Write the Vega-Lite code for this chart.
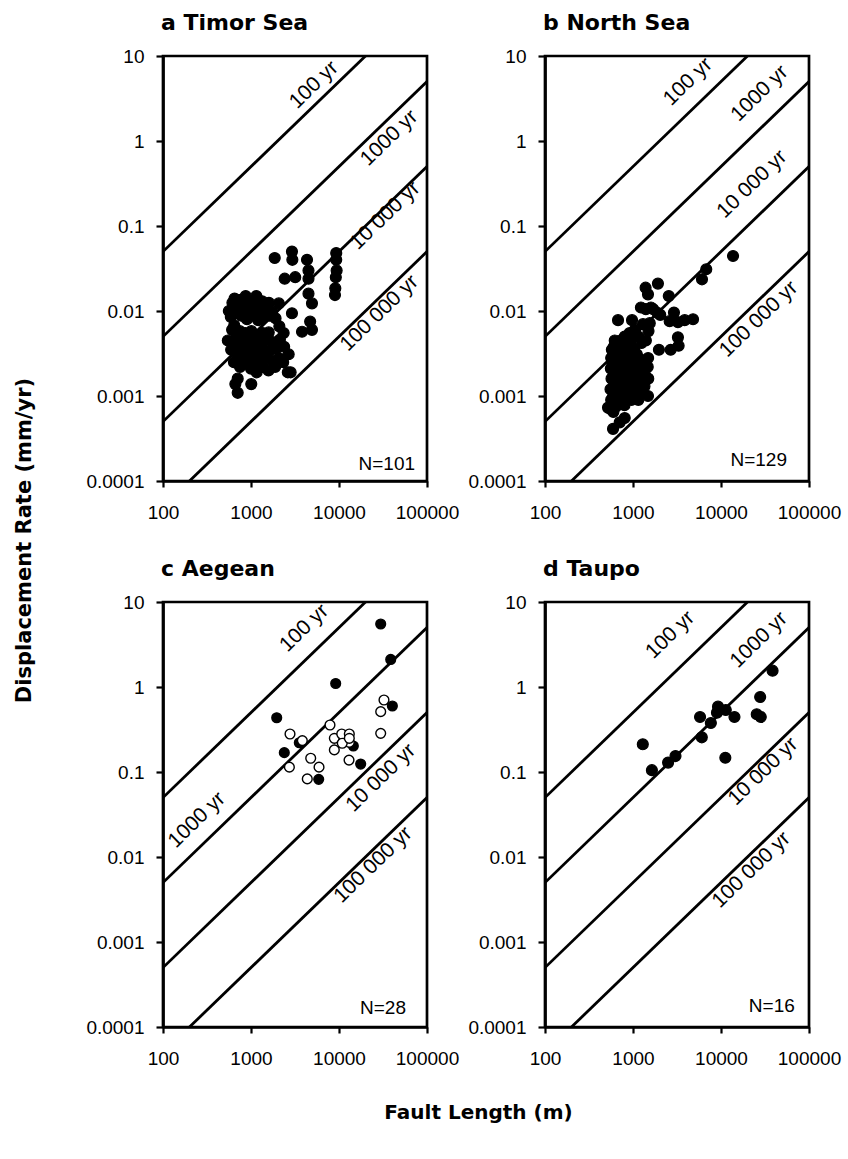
{
  "$schema": "https://vega.github.io/schema/vega-lite/v6.json",
  "background": "white",
  "autosize": {"type": "pad"},
  "padding": {"left": 11, "top": 10, "right": 10, "bottom": 10},
  "config": {
    "view": {"stroke": "black", "strokeWidth": 2.7},
    "axis": {"domainColor": "black", "domainWidth": 2.7, "tickColor": "black", "tickWidth": 2.2, "labelFont": "Liberation Sans", "labelFontSize": 19, "labelColor": "black", "grid": false, "labelFlush": false, "labelOverlap": false, "titleColor": "black"},
    "axisX": {"tickSize": 6, "labelPadding": 16},
    "axisY": {"tickSize": 7, "labelPadding": 12},
    "title": {"anchor": "start", "frame": "group", "font": "DejaVu Sans", "fontSize": 22, "fontWeight": "bold", "color": "black", "offset": 12, "dx": -2}
  },
  "datasets": {
    "lines": [
      {"period": "100", "x": 100, "y": 0.05}, {"period": "100", "x": 100000, "y": 50},
      {"period": "1000", "x": 100, "y": 0.005}, {"period": "1000", "x": 100000, "y": 5},
      {"period": "10000", "x": 100, "y": 0.0005}, {"period": "10000", "x": 100000, "y": 0.5},
      {"period": "100000", "x": 100, "y": 0.00005}, {"period": "100000", "x": 100000, "y": 0.05}
    ],
    "labels": [
      {"p": "a", "label": "100 yr", "x": 5200, "y": 4.56},
      {"p": "a", "label": "1000 yr", "x": 37300, "y": 1.08},
      {"p": "a", "label": "10 000 yr", "x": 33600, "y": 0.132},
      {"p": "a", "label": "100 000 yr", "x": 28800, "y": 0.0094},
      {"p": "b", "label": "100 yr", "x": 4220, "y": 4.97},
      {"p": "b", "label": "1000 yr", "x": 27500, "y": 3.62},
      {"p": "b", "label": "10 000 yr", "x": 22600, "y": 0.309},
      {"p": "b", "label": "100 000 yr", "x": 26900, "y": 0.00798},
      {"p": "c", "label": "100 yr", "x": 4030, "y": 4.91},
      {"p": "c", "label": "1000 yr", "x": 243, "y": 0.0272},
      {"p": "c", "label": "10 000 yr", "x": 30000, "y": 0.085},
      {"p": "c", "label": "100 000 yr", "x": 24500, "y": 0.00805},
      {"p": "d", "label": "100 yr", "x": 2660, "y": 4.09},
      {"p": "d", "label": "1000 yr", "x": 27000, "y": 3.57},
      {"p": "d", "label": "10 000 yr", "x": 30200, "y": 0.101},
      {"p": "d", "label": "100 000 yr", "x": 22200, "y": 0.00703}
    ],
    "ns": [
      {"p": "a", "label": "N=101", "x": 73100, "y": 0.000135},
      {"p": "b", "label": "N=129", "x": 56200, "y": 0.000151},
      {"p": "c", "label": "N=28", "x": 57700, "y": 0.000142},
      {"p": "d", "label": "N=16", "x": 69000, "y": 0.00015}
    ],
    "pts": [
      {"p": "a", "x": 706, "y": 0.0016, "k": "s"}, {"p": "a", "x": 664, "y": 0.00138, "k": "s"}, {"p": "a", "x": 706, "y": 0.00109, "k": "s"}, {"p": "a", "x": 1007, "y": 0.00138, "k": "s"},
      {"p": "a", "x": 545, "y": 0.0045, "k": "s"}, {"p": "a", "x": 560, "y": 0.010, "k": "s"},
      {"p": "a", "x": 595, "y": 0.0035, "k": "s"}, {"p": "a", "x": 610, "y": 0.006, "k": "s"}, {"p": "a", "x": 590, "y": 0.0085, "k": "s"}, {"p": "a", "x": 615, "y": 0.0125, "k": "s"},
      {"p": "a", "x": 640, "y": 0.0025, "k": "s"}, {"p": "a", "x": 660, "y": 0.0042, "k": "s"}, {"p": "a", "x": 645, "y": 0.0068, "k": "s"}, {"p": "a", "x": 665, "y": 0.0095, "k": "s"}, {"p": "a", "x": 650, "y": 0.014, "k": "s"},
      {"p": "a", "x": 700, "y": 0.003, "k": "s"}, {"p": "a", "x": 690, "y": 0.005, "k": "s"}, {"p": "a", "x": 715, "y": 0.011, "k": "s"},
      {"p": "a", "x": 750, "y": 0.0022, "k": "s"}, {"p": "a", "x": 770, "y": 0.0036, "k": "s"}, {"p": "a", "x": 745, "y": 0.0058, "k": "s"}, {"p": "a", "x": 775, "y": 0.0088, "k": "s"}, {"p": "a", "x": 760, "y": 0.0135, "k": "s"},
      {"p": "a", "x": 810, "y": 0.0028, "k": "s"}, {"p": "a", "x": 830, "y": 0.0046, "k": "s"}, {"p": "a", "x": 815, "y": 0.010, "k": "s"},
      {"p": "a", "x": 870, "y": 0.0024, "k": "s"}, {"p": "a", "x": 890, "y": 0.0038, "k": "s"}, {"p": "a", "x": 860, "y": 0.0055, "k": "s"}, {"p": "a", "x": 900, "y": 0.0080, "k": "s"}, {"p": "a", "x": 880, "y": 0.012, "k": "s"}, {"p": "a", "x": 870, "y": 0.015, "k": "s"},
      {"p": "a", "x": 940, "y": 0.003, "k": "s"}, {"p": "a", "x": 960, "y": 0.0048, "k": "s"}, {"p": "a", "x": 950, "y": 0.0105, "k": "s"},
      {"p": "a", "x": 1000, "y": 0.0021, "k": "s"}, {"p": "a", "x": 1040, "y": 0.0034, "k": "s"}, {"p": "a", "x": 1010, "y": 0.0058, "k": "s"}, {"p": "a", "x": 1050, "y": 0.0088, "k": "s"}, {"p": "a", "x": 1020, "y": 0.013, "k": "s"},
      {"p": "a", "x": 1090, "y": 0.0027, "k": "s"}, {"p": "a", "x": 1120, "y": 0.0042, "k": "s"}, {"p": "a", "x": 1100, "y": 0.0098, "k": "s"},
      {"p": "a", "x": 1160, "y": 0.0019, "k": "s"}, {"p": "a", "x": 1200, "y": 0.0032, "k": "s"}, {"p": "a", "x": 1170, "y": 0.0052, "k": "s"}, {"p": "a", "x": 1210, "y": 0.0078, "k": "s"}, {"p": "a", "x": 1180, "y": 0.0115, "k": "s"}, {"p": "a", "x": 1150, "y": 0.015, "k": "s"},
      {"p": "a", "x": 1250, "y": 0.0025, "k": "s"}, {"p": "a", "x": 1290, "y": 0.004, "k": "s"}, {"p": "a", "x": 1260, "y": 0.0092, "k": "s"},
      {"p": "a", "x": 1350, "y": 0.0022, "k": "s"}, {"p": "a", "x": 1390, "y": 0.0035, "k": "s"}, {"p": "a", "x": 1360, "y": 0.0055, "k": "s"}, {"p": "a", "x": 1400, "y": 0.0085, "k": "s"}, {"p": "a", "x": 1340, "y": 0.013, "k": "s"},
      {"p": "a", "x": 1460, "y": 0.0028, "k": "s"}, {"p": "a", "x": 1500, "y": 0.0046, "k": "s"}, {"p": "a", "x": 1470, "y": 0.0105, "k": "s"},
      {"p": "a", "x": 1580, "y": 0.002, "k": "s"}, {"p": "a", "x": 1620, "y": 0.0034, "k": "s"}, {"p": "a", "x": 1590, "y": 0.0056, "k": "s"}, {"p": "a", "x": 1630, "y": 0.0088, "k": "s"}, {"p": "a", "x": 1600, "y": 0.0125, "k": "s"},
      {"p": "a", "x": 1730, "y": 0.0026, "k": "s"}, {"p": "a", "x": 1770, "y": 0.0043, "k": "s"}, {"p": "a", "x": 1740, "y": 0.0098, "k": "s"},
      {"p": "a", "x": 1880, "y": 0.0022, "k": "s"}, {"p": "a", "x": 1930, "y": 0.0036, "k": "s"}, {"p": "a", "x": 1900, "y": 0.0082, "k": "s"},
      {"p": "a", "x": 2080, "y": 0.0028, "k": "s"}, {"p": "a", "x": 2130, "y": 0.0046, "k": "s"}, {"p": "a", "x": 2100, "y": 0.0066, "k": "s"},
      {"p": "a", "x": 2320, "y": 0.0025, "k": "s"}, {"p": "a", "x": 2380, "y": 0.0038, "k": "s"}, {"p": "a", "x": 2350, "y": 0.0055, "k": "s"},
      {"p": "a", "x": 2620, "y": 0.0019, "k": "s"}, {"p": "a", "x": 2680, "y": 0.0031, "k": "s"},
      {"p": "a", "x": 2820, "y": 0.0019, "k": "s"},
      {"p": "a", "x": 1860, "y": 0.042, "k": "s"}, {"p": "a", "x": 2920, "y": 0.05, "k": "s"}, {"p": "a", "x": 2950, "y": 0.04, "k": "s"}, {"p": "a", "x": 4330, "y": 0.04, "k": "s"},
      {"p": "a", "x": 9300, "y": 0.048, "k": "s"}, {"p": "a", "x": 9300, "y": 0.04, "k": "s"}, {"p": "a", "x": 9400, "y": 0.030, "k": "s"}, {"p": "a", "x": 9200, "y": 0.025, "k": "s"},
      {"p": "a", "x": 9080, "y": 0.0185, "k": "s"}, {"p": "a", "x": 2415, "y": 0.024, "k": "s"}, {"p": "a", "x": 3180, "y": 0.025, "k": "s"}, {"p": "a", "x": 9000, "y": 0.0154, "k": "s"},
      {"p": "a", "x": 4500, "y": 0.03, "k": "s"}, {"p": "a", "x": 4500, "y": 0.024, "k": "s"}, {"p": "a", "x": 4500, "y": 0.016, "k": "s"}, {"p": "a", "x": 4930, "y": 0.0123, "k": "s"},
      {"p": "a", "x": 4700, "y": 0.0075, "k": "s"}, {"p": "a", "x": 4930, "y": 0.006, "k": "s"}, {"p": "a", "x": 3800, "y": 0.0057, "k": "s"}, {"p": "a", "x": 2070, "y": 0.0123, "k": "s"},
      {"p": "a", "x": 2920, "y": 0.0094, "k": "s"},

      {"p": "b", "x": 560, "y": 0.0007, "k": "s"}, {"p": "b", "x": 565, "y": 0.0009, "k": "s"}, {"p": "b", "x": 555, "y": 0.0012, "k": "s"}, {"p": "b", "x": 570, "y": 0.0016, "k": "s"}, {"p": "b", "x": 560, "y": 0.0021, "k": "s"}, {"p": "b", "x": 565, "y": 0.0028, "k": "s"}, {"p": "b", "x": 575, "y": 0.0035, "k": "s"},
      {"p": "b", "x": 600, "y": 0.0008, "k": "s"}, {"p": "b", "x": 595, "y": 0.001, "k": "s"}, {"p": "b", "x": 605, "y": 0.0013, "k": "s"}, {"p": "b", "x": 600, "y": 0.0017, "k": "s"}, {"p": "b", "x": 610, "y": 0.0022, "k": "s"}, {"p": "b", "x": 595, "y": 0.003, "k": "s"}, {"p": "b", "x": 605, "y": 0.0038, "k": "s"}, {"p": "b", "x": 598, "y": 0.00065, "k": "s"},
      {"p": "b", "x": 640, "y": 0.00075, "k": "s"}, {"p": "b", "x": 645, "y": 0.00095, "k": "s"}, {"p": "b", "x": 635, "y": 0.0012, "k": "s"}, {"p": "b", "x": 650, "y": 0.0015, "k": "s"}, {"p": "b", "x": 640, "y": 0.0019, "k": "s"}, {"p": "b", "x": 645, "y": 0.0025, "k": "s"}, {"p": "b", "x": 635, "y": 0.0032, "k": "s"}, {"p": "b", "x": 650, "y": 0.0042, "k": "s"},
      {"p": "b", "x": 680, "y": 0.0008, "k": "s"}, {"p": "b", "x": 685, "y": 0.0011, "k": "s"}, {"p": "b", "x": 675, "y": 0.0014, "k": "s"}, {"p": "b", "x": 690, "y": 0.0018, "k": "s"}, {"p": "b", "x": 680, "y": 0.0023, "k": "s"}, {"p": "b", "x": 685, "y": 0.0029, "k": "s"},
      {"p": "b", "x": 720, "y": 0.00085, "k": "s"}, {"p": "b", "x": 715, "y": 0.00105, "k": "s"}, {"p": "b", "x": 725, "y": 0.0013, "k": "s"}, {"p": "b", "x": 720, "y": 0.0016, "k": "s"}, {"p": "b", "x": 730, "y": 0.0021, "k": "s"}, {"p": "b", "x": 715, "y": 0.0027, "k": "s"}, {"p": "b", "x": 725, "y": 0.0036, "k": "s"}, {"p": "b", "x": 720, "y": 0.0045, "k": "s"},
      {"p": "b", "x": 760, "y": 0.0009, "k": "s"}, {"p": "b", "x": 765, "y": 0.0012, "k": "s"}, {"p": "b", "x": 755, "y": 0.0015, "k": "s"}, {"p": "b", "x": 770, "y": 0.002, "k": "s"}, {"p": "b", "x": 760, "y": 0.0026, "k": "s"},
      {"p": "b", "x": 800, "y": 0.00078, "k": "s"}, {"p": "b", "x": 810, "y": 0.001, "k": "s"}, {"p": "b", "x": 795, "y": 0.0013, "k": "s"}, {"p": "b", "x": 805, "y": 0.0017, "k": "s"}, {"p": "b", "x": 800, "y": 0.0022, "k": "s"}, {"p": "b", "x": 815, "y": 0.003, "k": "s"}, {"p": "b", "x": 800, "y": 0.0041, "k": "s"}, {"p": "b", "x": 805, "y": 0.005, "k": "s"},
      {"p": "b", "x": 850, "y": 0.00095, "k": "s"}, {"p": "b", "x": 860, "y": 0.0012, "k": "s"}, {"p": "b", "x": 845, "y": 0.0016, "k": "s"}, {"p": "b", "x": 855, "y": 0.0021, "k": "s"}, {"p": "b", "x": 850, "y": 0.0028, "k": "s"},
      {"p": "b", "x": 900, "y": 0.0011, "k": "s"}, {"p": "b", "x": 910, "y": 0.0014, "k": "s"}, {"p": "b", "x": 895, "y": 0.0018, "k": "s"}, {"p": "b", "x": 905, "y": 0.0024, "k": "s"}, {"p": "b", "x": 900, "y": 0.0033, "k": "s"}, {"p": "b", "x": 915, "y": 0.0055, "k": "s"},
      {"p": "b", "x": 960, "y": 0.0009, "k": "s"}, {"p": "b", "x": 970, "y": 0.0012, "k": "s"}, {"p": "b", "x": 955, "y": 0.0016, "k": "s"}, {"p": "b", "x": 965, "y": 0.0022, "k": "s"}, {"p": "b", "x": 960, "y": 0.0029, "k": "s"},
      {"p": "b", "x": 1030, "y": 0.001, "k": "s"}, {"p": "b", "x": 1040, "y": 0.0014, "k": "s"}, {"p": "b", "x": 1020, "y": 0.0019, "k": "s"}, {"p": "b", "x": 1035, "y": 0.0026, "k": "s"}, {"p": "b", "x": 1030, "y": 0.0036, "k": "s"},
      {"p": "b", "x": 1100, "y": 0.0012, "k": "s"}, {"p": "b", "x": 1110, "y": 0.0016, "k": "s"}, {"p": "b", "x": 1090, "y": 0.0021, "k": "s"}, {"p": "b", "x": 1105, "y": 0.0031, "k": "s"},
      {"p": "b", "x": 1200, "y": 0.0011, "k": "s"}, {"p": "b", "x": 1210, "y": 0.0015, "k": "s"}, {"p": "b", "x": 1190, "y": 0.002, "k": "s"}, {"p": "b", "x": 1205, "y": 0.0027, "k": "s"},
      {"p": "b", "x": 1350, "y": 0.0013, "k": "s"}, {"p": "b", "x": 1360, "y": 0.0018, "k": "s"}, {"p": "b", "x": 1340, "y": 0.0024, "k": "s"},
      {"p": "b", "x": 1480, "y": 0.001, "k": "s"}, {"p": "b", "x": 1490, "y": 0.0016, "k": "s"}, {"p": "b", "x": 1470, "y": 0.0022, "k": "s"}, {"p": "b", "x": 1485, "y": 0.0028, "k": "s"},
      {"p": "b", "x": 580, "y": 0.0025, "k": "s"}, {"p": "b", "x": 620, "y": 0.0045, "k": "s"}, {"p": "b", "x": 700, "y": 0.0035, "k": "s"}, {"p": "b", "x": 750, "y": 0.0042, "k": "s"},
      {"p": "b", "x": 870, "y": 0.0037, "k": "s"}, {"p": "b", "x": 930, "y": 0.0044, "k": "s"}, {"p": "b", "x": 1000, "y": 0.0031, "k": "s"}, {"p": "b", "x": 1150, "y": 0.0009, "k": "s"},
      {"p": "b", "x": 593, "y": 0.00041, "k": "s"}, {"p": "b", "x": 706, "y": 0.00049, "k": "s"}, {"p": "b", "x": 805, "y": 0.00055, "k": "s"}, {"p": "b", "x": 520, "y": 0.00073, "k": "s"},
      {"p": "b", "x": 676, "y": 0.0078, "k": "s"}, {"p": "b", "x": 975, "y": 0.0078, "k": "s"}, {"p": "b", "x": 1390, "y": 0.0188, "k": "s"}, {"p": "b", "x": 1920, "y": 0.021, "k": "s"},
      {"p": "b", "x": 1480, "y": 0.0157, "k": "s"}, {"p": "b", "x": 2550, "y": 0.015, "k": "s"}, {"p": "b", "x": 1230, "y": 0.011, "k": "s"}, {"p": "b", "x": 1400, "y": 0.0105, "k": "s"},
      {"p": "b", "x": 1600, "y": 0.011, "k": "s"}, {"p": "b", "x": 1900, "y": 0.0095, "k": "s"}, {"p": "b", "x": 2040, "y": 0.009, "k": "s"}, {"p": "b", "x": 2920, "y": 0.0096, "k": "s"},
      {"p": "b", "x": 2610, "y": 0.0076, "k": "s"}, {"p": "b", "x": 3240, "y": 0.0074, "k": "s"}, {"p": "b", "x": 3870, "y": 0.0078, "k": "s"}, {"p": "b", "x": 4810, "y": 0.008, "k": "s"},
      {"p": "b", "x": 3240, "y": 0.0049, "k": "s"}, {"p": "b", "x": 3300, "y": 0.0039, "k": "s"}, {"p": "b", "x": 2680, "y": 0.0035, "k": "s"}, {"p": "b", "x": 1970, "y": 0.0035, "k": "s"},
      {"p": "b", "x": 1300, "y": 0.007, "k": "s"}, {"p": "b", "x": 1500, "y": 0.0058, "k": "s"}, {"p": "b", "x": 1400, "y": 0.0045, "k": "s"}, {"p": "b", "x": 1150, "y": 0.005, "k": "s"},
      {"p": "b", "x": 1050, "y": 0.006, "k": "s"}, {"p": "b", "x": 6800, "y": 0.031, "k": "s"}, {"p": "b", "x": 6080, "y": 0.0236, "k": "s"}, {"p": "b", "x": 13700, "y": 0.0444, "k": "s"},
      {"p": "b", "x": 1700, "y": 0.0105, "k": "s"}, {"p": "b", "x": 1550, "y": 0.0072, "k": "s"}, {"p": "b", "x": 1250, "y": 0.0042, "k": "s"},

      {"p": "c", "x": 1960, "y": 0.435, "k": "s"}, {"p": "c", "x": 2390, "y": 0.169, "k": "s"}, {"p": "c", "x": 3540, "y": 0.221, "k": "s"}, {"p": "c", "x": 5880, "y": 0.082, "k": "s"},
      {"p": "c", "x": 9170, "y": 1.10, "k": "s"}, {"p": "c", "x": 14550, "y": 0.202, "k": "s"}, {"p": "c", "x": 17630, "y": 0.124, "k": "s"}, {"p": "c", "x": 29780, "y": 5.51, "k": "s"},
      {"p": "c", "x": 38700, "y": 2.11, "k": "s"}, {"p": "c", "x": 40400, "y": 0.597, "k": "s"},
      {"p": "c", "x": 2775, "y": 0.280, "k": "o"}, {"p": "c", "x": 2730, "y": 0.114, "k": "o"}, {"p": "c", "x": 3830, "y": 0.234, "k": "o"}, {"p": "c", "x": 4770, "y": 0.145, "k": "o"},
      {"p": "c", "x": 4360, "y": 0.083, "k": "o"}, {"p": "c", "x": 5930, "y": 0.114, "k": "o"}, {"p": "c", "x": 7900, "y": 0.357, "k": "o"}, {"p": "c", "x": 8850, "y": 0.249, "k": "o"},
      {"p": "c", "x": 8850, "y": 0.182, "k": "o"}, {"p": "c", "x": 10740, "y": 0.280, "k": "o"}, {"p": "c", "x": 13100, "y": 0.280, "k": "o"}, {"p": "c", "x": 13100, "y": 0.223, "k": "o"},
      {"p": "c", "x": 13000, "y": 0.138, "k": "o"}, {"p": "c", "x": 29780, "y": 0.513, "k": "o"}, {"p": "c", "x": 32450, "y": 0.703, "k": "o"}, {"p": "c", "x": 29780, "y": 0.285, "k": "o"},
      {"p": "c", "x": 10890, "y": 0.218, "k": "o"}, {"p": "c", "x": 13100, "y": 0.249, "k": "o"},

      {"p": "d", "x": 1292, "y": 0.212, "k": "s"}, {"p": "d", "x": 1640, "y": 0.105, "k": "s"}, {"p": "d", "x": 2505, "y": 0.129, "k": "s"}, {"p": "d", "x": 3040, "y": 0.154, "k": "s"},
      {"p": "d", "x": 5780, "y": 0.444, "k": "s"}, {"p": "d", "x": 6050, "y": 0.256, "k": "s"}, {"p": "d", "x": 7670, "y": 0.377, "k": "s"}, {"p": "d", "x": 9250, "y": 0.587, "k": "s"},
      {"p": "d", "x": 9000, "y": 0.499, "k": "s"}, {"p": "d", "x": 11330, "y": 0.536, "k": "s"}, {"p": "d", "x": 14220, "y": 0.444, "k": "s"}, {"p": "d", "x": 11200, "y": 0.147, "k": "s"},
      {"p": "d", "x": 25470, "y": 0.478, "k": "s"}, {"p": "d", "x": 28300, "y": 0.444, "k": "s"}, {"p": "d", "x": 27860, "y": 0.762, "k": "s"}, {"p": "d", "x": 38550, "y": 1.556, "k": "s"}
    ]
  },
  "columns": 2,
  "bounds": "flush",
  "spacing": {"row": 121, "column": 118},
  "concat": [
    {
      "width": 264, "height": 425,
      "title": "a Timor Sea",
      "encoding": {
        "x": {"field": "x", "type": "quantitative", "scale": {"type": "log", "domain": [100, 100000]}, "axis": {"values": [100, 1000, 10000, 100000], "format": "~g", "title": null}},
        "y": {"field": "y", "type": "quantitative", "scale": {"type": "log", "domain": [0.0001, 10]}, "axis": {"values": [0.0001, 0.001, 0.01, 0.1, 1, 10], "format": "~g", "title": "Displacement Rate (mm/yr)", "titleX": -139, "titleY": 484, "titleAlign": "center", "titleBaseline": "middle", "titleFont": "DejaVu Sans", "titleFontSize": 21, "titleFontWeight": "bold"}}
      },
      "layer": [
        {"data": {"name": "lines"}, "mark": {"type": "line", "color": "black", "strokeWidth": 2.8, "clip": true}, "encoding": {"detail": {"field": "period"}}},
        {"data": {"name": "labels"}, "transform": [{"filter": "datum.p === 'a'"}], "mark": {"type": "text", "angle": 316, "font": "Liberation Sans", "fontSize": 21, "color": "black", "align": "center", "baseline": "middle"}, "encoding": {"text": {"field": "label"}}},
        {"data": {"name": "pts"}, "transform": [{"filter": "datum.p === 'a'"}], "mark": {"type": "circle", "size": 120, "stroke": "black", "strokeWidth": 1.2, "opacity": 1}, "encoding": {"fill": {"field": "k", "type": "nominal", "scale": {"domain": ["s", "o"], "range": ["black", "white"]}, "legend": null}}},
        {"data": {"name": "ns"}, "transform": [{"filter": "datum.p === 'a'"}], "mark": {"type": "text", "align": "right", "baseline": "alphabetic", "font": "Liberation Sans", "fontSize": 19, "color": "black"}, "encoding": {"text": {"field": "label"}}}
      ]
    },
    {
      "width": 264, "height": 425,
      "title": "b North Sea",
      "encoding": {
        "x": {"field": "x", "type": "quantitative", "scale": {"type": "log", "domain": [100, 100000]}, "axis": {"values": [100, 1000, 10000, 100000], "format": "~g", "title": null}},
        "y": {"field": "y", "type": "quantitative", "scale": {"type": "log", "domain": [0.0001, 10]}, "axis": {"values": [0.0001, 0.001, 0.01, 0.1, 1, 10], "format": "~g", "title": null}}
      },
      "layer": [
        {"data": {"name": "lines"}, "mark": {"type": "line", "color": "black", "strokeWidth": 2.8, "clip": true}, "encoding": {"detail": {"field": "period"}}},
        {"data": {"name": "labels"}, "transform": [{"filter": "datum.p === 'b'"}], "mark": {"type": "text", "angle": 316, "font": "Liberation Sans", "fontSize": 21, "color": "black", "align": "center", "baseline": "middle"}, "encoding": {"text": {"field": "label"}}},
        {"data": {"name": "pts"}, "transform": [{"filter": "datum.p === 'b'"}], "mark": {"type": "circle", "size": 120, "stroke": "black", "strokeWidth": 1.2, "opacity": 1}, "encoding": {"fill": {"field": "k", "type": "nominal", "scale": {"domain": ["s", "o"], "range": ["black", "white"]}, "legend": null}}},
        {"data": {"name": "ns"}, "transform": [{"filter": "datum.p === 'b'"}], "mark": {"type": "text", "align": "right", "baseline": "alphabetic", "font": "Liberation Sans", "fontSize": 19, "color": "black"}, "encoding": {"text": {"field": "label"}}}
      ]
    },
    {
      "width": 264, "height": 425,
      "title": "c Aegean",
      "encoding": {
        "x": {"field": "x", "type": "quantitative", "scale": {"type": "log", "domain": [100, 100000]}, "axis": {"values": [100, 1000, 10000, 100000], "format": "~g", "title": "Fault Length (m)", "titleX": 315, "titleY": 85, "titleAlign": "center", "titleBaseline": "middle", "titleFont": "DejaVu Sans", "titleFontSize": 20, "titleFontWeight": "bold"}},
        "y": {"field": "y", "type": "quantitative", "scale": {"type": "log", "domain": [0.0001, 10]}, "axis": {"values": [0.0001, 0.001, 0.01, 0.1, 1, 10], "format": "~g", "title": null}}
      },
      "layer": [
        {"data": {"name": "lines"}, "mark": {"type": "line", "color": "black", "strokeWidth": 2.8, "clip": true}, "encoding": {"detail": {"field": "period"}}},
        {"data": {"name": "labels"}, "transform": [{"filter": "datum.p === 'c'"}], "mark": {"type": "text", "angle": 316, "font": "Liberation Sans", "fontSize": 21, "color": "black", "align": "center", "baseline": "middle"}, "encoding": {"text": {"field": "label"}}},
        {"data": {"name": "pts"}, "transform": [{"filter": "datum.p === 'c'"}], "mark": {"type": "circle", "size": 95, "stroke": "black", "strokeWidth": 1.4, "opacity": 1}, "encoding": {"fill": {"field": "k", "type": "nominal", "scale": {"domain": ["s", "o"], "range": ["black", "white"]}, "legend": null}}},
        {"data": {"name": "ns"}, "transform": [{"filter": "datum.p === 'c'"}], "mark": {"type": "text", "align": "right", "baseline": "alphabetic", "font": "Liberation Sans", "fontSize": 19, "color": "black"}, "encoding": {"text": {"field": "label"}}}
      ]
    },
    {
      "width": 264, "height": 425,
      "title": "d Taupo",
      "encoding": {
        "x": {"field": "x", "type": "quantitative", "scale": {"type": "log", "domain": [100, 100000]}, "axis": {"values": [100, 1000, 10000, 100000], "format": "~g", "title": null}},
        "y": {"field": "y", "type": "quantitative", "scale": {"type": "log", "domain": [0.0001, 10]}, "axis": {"values": [0.0001, 0.001, 0.01, 0.1, 1, 10], "format": "~g", "title": null}}
      },
      "layer": [
        {"data": {"name": "lines"}, "mark": {"type": "line", "color": "black", "strokeWidth": 2.8, "clip": true}, "encoding": {"detail": {"field": "period"}}},
        {"data": {"name": "labels"}, "transform": [{"filter": "datum.p === 'd'"}], "mark": {"type": "text", "angle": 316, "font": "Liberation Sans", "fontSize": 21, "color": "black", "align": "center", "baseline": "middle"}, "encoding": {"text": {"field": "label"}}},
        {"data": {"name": "pts"}, "transform": [{"filter": "datum.p === 'd'"}], "mark": {"type": "circle", "size": 120, "stroke": "black", "strokeWidth": 1.2, "opacity": 1}, "encoding": {"fill": {"field": "k", "type": "nominal", "scale": {"domain": ["s", "o"], "range": ["black", "white"]}, "legend": null}}},
        {"data": {"name": "ns"}, "transform": [{"filter": "datum.p === 'd'"}], "mark": {"type": "text", "align": "right", "baseline": "alphabetic", "font": "Liberation Sans", "fontSize": 19, "color": "black"}, "encoding": {"text": {"field": "label"}}}
      ]
    }
  ]
}
